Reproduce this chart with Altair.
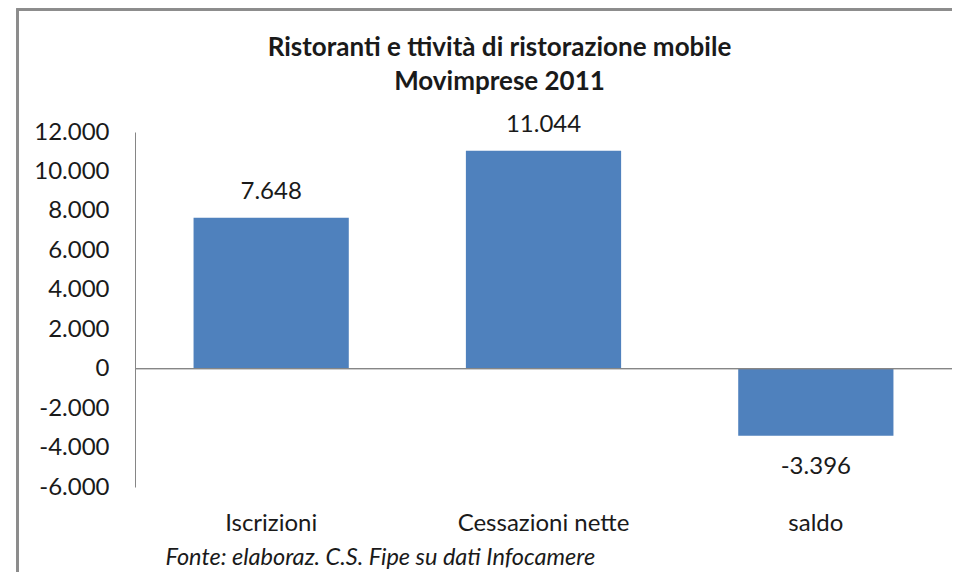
import altair as alt
import pandas as pd

categories = ["Iscrizioni", "Cessazioni nette", "saldo"]
values = [7648, 11044, -3396]
y_ticks = [-6000, -4000, -2000, 0, 2000, 4000, 6000, 8000, 10000, 12000]
title_lines = ["Ristoranti e ttività di ristorazione mobile", "Movimprese 2011"]
source_note = "Fonte: elaboraz. C.S. Fipe su dati Infocamere"

df = pd.DataFrame({"cat": categories, "val": values})

FONT = "Lato"
TXT = "#1a1a1a"
W, H = 817, 355
FS = 24

fmt_expr = "(datum.val < 0 ? '-' : '') + replace(format(abs(datum.val), ','), ',', '.')"
axis_fmt = "(datum.value < 0 ? '-' : '') + replace(format(abs(datum.value), ','), ',', '.')"

x_enc = alt.X("cat:N", sort=categories,
              scale=alt.Scale(paddingInner=0.43, paddingOuter=0.215),
              axis=alt.Axis(title=source_note, labelAngle=0, domain=False, ticks=False,
                            labelFont=FONT, labelFontSize=FS, labelColor=TXT, labelPadding=24,
                            titleFont=FONT, titleFontSize=23.5, titleFontStyle="italic",
                            titleFontWeight="normal", titleColor=TXT, titleAlign="left",
                            titleX=30, titleY=70, titleBaseline="middle"))
y_scale = alt.Scale(domain=[-6000, 12000], nice=False)
y_axis = alt.Axis(title=None, values=y_ticks, grid=False, ticks=False,
                  domainColor="#868686", domainWidth=1, labelOverlap=False,
                  labelFont=FONT, labelFontSize=FS, labelColor=TXT,
                  labelPadding=26, labelExpr=axis_fmt)
y_enc = alt.Y("val:Q", scale=y_scale, axis=y_axis)

base = alt.Chart(df)

frame = base.mark_rect(filled=False, stroke="#8c8c8c", strokeWidth=2.5).encode(
    x=alt.value(-117.5), x2=alt.value(W + 60), y=alt.value(-122.5), y2=alt.value(H + 300)
)

bars = base.mark_bar(color="#4F81BD").encode(x=x_enc, y=y_enc)

zero = base.mark_rule(color="#868686", strokeWidth=1).encode(
    y=alt.Y(datum=0, scale=y_scale, axis=y_axis)
)

pos_lbl = base.transform_filter("datum.val >= 0").transform_calculate(lbl=fmt_expr).mark_text(
    font=FONT, fontSize=FS, color=TXT, baseline="middle", dy=-26
).encode(x=x_enc, y=y_enc, text="lbl:N")

neg_lbl = base.transform_filter("datum.val < 0").transform_calculate(lbl=fmt_expr).mark_text(
    font=FONT, fontSize=FS, color=TXT, baseline="middle", dy=31
).encode(x=x_enc, y=y_enc, text="lbl:N")

chart = alt.layer(frame, bars, zero, pos_lbl, neg_lbl).properties(
    width=W, height=H,
    background="white",
    title=alt.Title(title_lines, anchor="middle", dx=-44, dy=87, font=FONT, fontSize=26,
                    fontWeight="bold", color=TXT, offset=0, lineHeight=34),
    autosize=alt.AutoSizeParams(type="none"),
    padding={"left": 127, "top": 124, "right": 0, "bottom": 85},
).configure_view(stroke=None).configure_axis(grid=False, labelOverlap=False)

chart.save("out.html", embed_options={"renderer": "svg", "actions": False})
